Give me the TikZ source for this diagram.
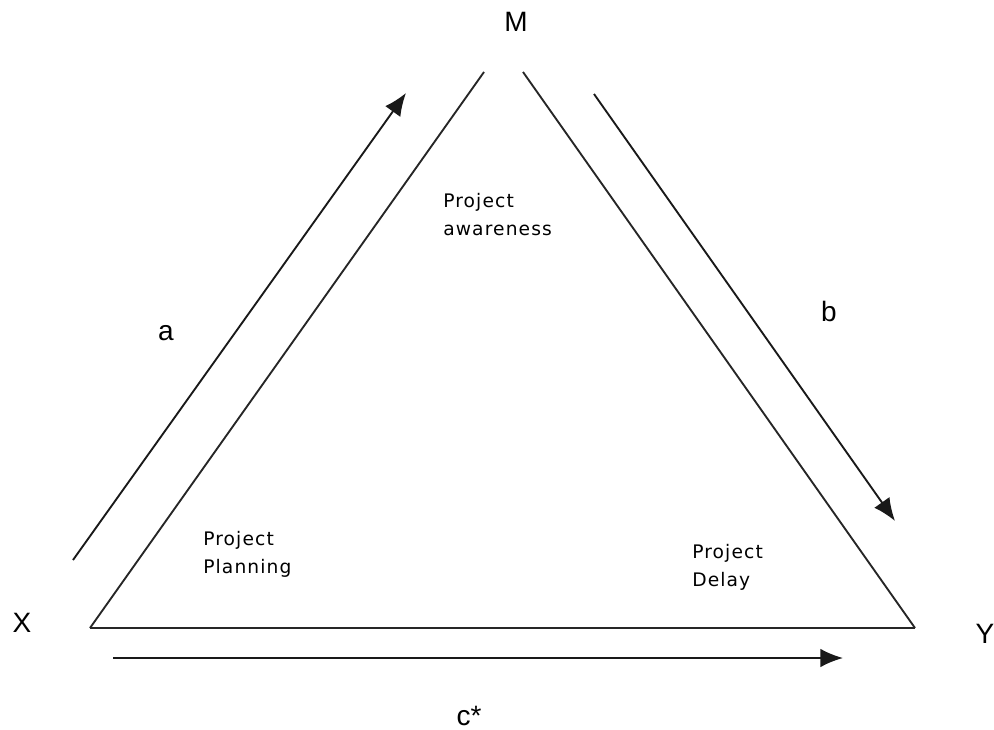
\documentclass[tikz,border=0pt]{standalone}
\usepackage{fontspec}
\setmainfont{Liberation Sans}
\newfontfamily\boxfont[LetterSpace=6]{DejaVu Sans}
\usetikzlibrary{arrows.meta}
\tikzset{corner/.style={font=\fontsize{21}{24}\selectfont, inner sep=0pt},
boxtext/.style={font=\boxfont\fontsize{14}{21}\selectfont, align=left, anchor=north west, inner sep=0pt},
side/.style={line width=1.4pt, black!85},
line/.style={line width=1.4pt, black!90, -{Latex[length=17pt,width=14pt]}}
}
\begin{document}
\begin{tikzpicture}[x=0.75pt, y=-0.75pt]
    \useasboundingbox (0,0) rectangle (994,730);
    % Corners of the triangle
    \coordinate (xcorner) at (90,628);
    \coordinate (ycorner) at (915,628);
    \coordinate (mleft) at (484,72);
    \coordinate (mright) at (523,72);
    % Labels
    \node [corner] (mlabel) at (516,22) {M};
    \node [corner] (xlabel) at (22,623) {X};
    \node [corner] (ylabel) at (985,634) {Y};
    \node [corner] (alabel) at (166,333) {a};
    \node [corner] (blabel) at (829,311) {b};
    \node [corner] (clabel) at (469,716) {c*};
    \node [boxtext] (awareness) at (443,193) {Project\\awareness};
    \node [boxtext] (planning) at (203,531) {Project\\Planning};
    \node [boxtext] (delay) at (692,544) {Project\\Delay};
    % Sides
    \draw [side] (xcorner) -- (mleft);
    \draw [side] (mright) -- (ycorner);
    \draw [side] (xcorner) -- (ycorner);
    % Arrows
    \coordinate (astart) at (73,560);
    \coordinate (aend) at (406,93);
    \coordinate (bstart) at (594,94);
    \coordinate (bend) at (895,521);
    \coordinate (cstart) at (113,658);
    \coordinate (cend) at (843,658);
    \draw [line] (astart) -- (aend);
    \draw [line] (bstart) -- (bend);
    \draw [line] (cstart) -- (cend);
\end{tikzpicture}
\end{document}
